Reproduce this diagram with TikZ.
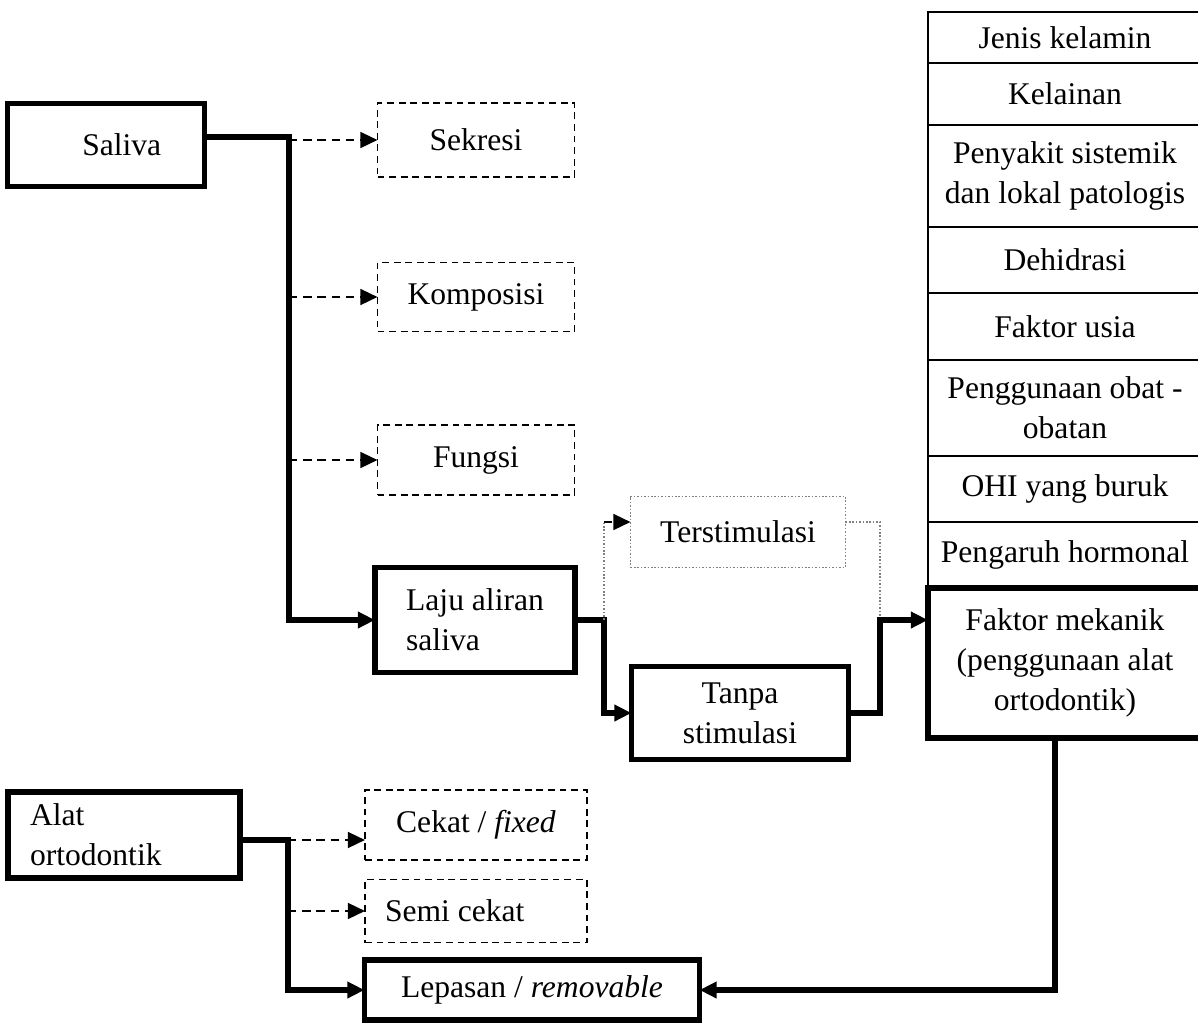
\documentclass[tikz,border=0pt]{standalone}
\usepackage{fontspec}
\setmainfont{Liberation Serif}
\usetikzlibrary{arrows.meta,calc,positioning}
\newcommand{\pxu}{0.38pt}
\tikzset{sz/.style 2 args={minimum width=#1*\pxu,minimum height=#2*\pxu},
  mainbox/.style={draw,line width=2pt,align=center,inner sep=2pt,outer sep=0pt},
  subbox/.style={draw,line width=0.6pt,dash pattern=on 2.6pt off 1.8pt,align=center,outer sep=0pt},
  stimbox/.style={draw=gray,line width=0.5pt,dash pattern=on 0.6pt off 0.7pt,align=center,outer sep=0pt},
  cell/.style={draw,line width=0.8pt,align=center,inner sep=0pt,outer sep=0pt,minimum width=274*\pxu},
  link/.style={line width=2pt},
  linkarr/.style={link,-{Triangle[length=6.5pt,width=6pt]}},
  dasharr/.style={line width=0.9pt,dash pattern=on 3.2pt off 2.2pt,-{Triangle[length=6.5pt,width=6pt]}},
  dotline/.style={gray,line width=0.5pt,dash pattern=on 0.6pt off 0.7pt}}

\begin{document}
\begin{tikzpicture}[x=\pxu,y=-\pxu,font=\fontsize{12}{15.2}\selectfont]
\useasboundingbox (0,0) rectangle (1198,1026);
% saliva branch
\node[mainbox,sz={197}{83}] (saliva) at (106,145) {\hspace*{12pt}Saliva};
\node[subbox,sz={197}{74}] (sekresi) at (476,140) {Sekresi};
\node[subbox,sz={197}{69}] (komposisi) at (476,297) {Komposisi};
\node[subbox,sz={197}{70}] (fungsi) at (476,460) {Fungsi};
\node[mainbox,sz={200}{105},align=left] (laju) at (475,620) {Laju aliran\\saliva};
\node[stimbox,sz={215}{71}] (terst) at (738,532) {Terstimulasi};
\node[mainbox,sz={217}{93}] (tanpa) at (740,713) {Tanpa\\stimulasi};
\coordinate (trunk) at (289,137);
\draw[linkarr] (saliva.east |- trunk) -- (trunk) |- (laju.west);
\foreach \n in {sekresi,komposisi,fungsi}
  \draw[dasharr] (trunk |- \n.west) -- (\n.west);
% flow rate
\coordinate (splitL) at ($(laju.east)+(29,0)$);
\coordinate (terstin) at ($(terst.west)+(0,-10)$);
\draw[linkarr] (laju.east) -- (splitL) |- (tanpa.west);
\draw[dotline] (splitL) -- (splitL |- terstin);
\draw[dasharr] (splitL |- terstin) -- (terstin);
% factors
\foreach \txt/\top/\h [count=\i] in {Jenis kelamin/12/51, Kelainan/63/62,
    {Penyakit sistemik\\dan lokal patologis}/125/102, Dehidrasi/227/66,
    Faktor usia/293/67, {Penggunaan obat -\\obatan}/360/96,
    OHI yang buruk/456/66, Pengaruh hormonal/522/66}
  \node[cell,minimum height=\h*\pxu,anchor=north west] (cell\i) at (928,\top) {\txt};
\node[cell,line width=2pt,minimum height=150*\pxu,anchor=north west] (mekanik) at (928,588)
  {Faktor mekanik\\(penggunaan alat\\ortodontik)};
\coordinate (splitR) at (880,620);
\draw[dotline] ($(terst.east)+(0,-10)$) -| (splitR);
\draw[linkarr] (tanpa.east) -| (splitR) -- (splitR -| mekanik.west);
% appliance
\node[mainbox,sz={232}{86},text width=188*\pxu,inner xsep=22*\pxu,align=flush left] (alat) at (124,835) {Alat\\ortodontik};
\node[subbox,sz={222}{70}] (cekat) at (476,825) {Cekat / \textit{fixed}};
\node[subbox,sz={222}{63},text width=182*\pxu,inner xsep=20*\pxu,align=flush left] (semi) at (476,911) {Semi cekat};
\node[mainbox,sz={335}{60}] (lepasan) at (532,990) {Lepasan / \textit{removable}};
\coordinate (trunkB) at (288,840);
\draw[linkarr] (alat.east |- trunkB) -- (trunkB) |- (lepasan.west);
\draw[dasharr] (trunkB) -- (trunkB -| cekat.west);
\draw[dasharr] (trunkB |- semi.west) -- (semi.west);
\draw[linkarr] ($(mekanik.south)+(-10,0)$) |- (lepasan.east);
\end{tikzpicture}
\end{document}
